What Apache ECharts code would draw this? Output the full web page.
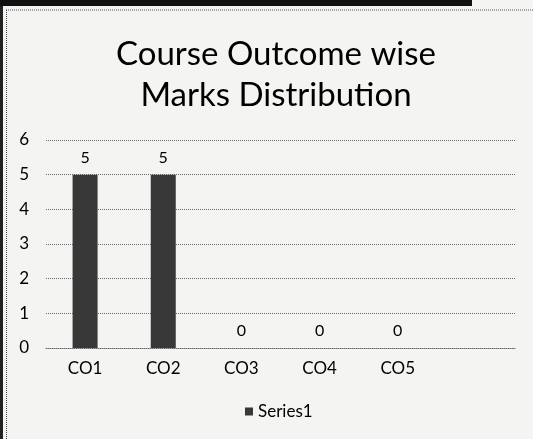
<!DOCTYPE html>
<html>
<head>
<meta charset="utf-8">
<script src="https://cdn.jsdelivr.net/npm/echarts@6/dist/echarts.min.js"></script>
<style>
  html, body { margin: 0; padding: 0; background: #f4f4f2; }
  #chart { width: 533px; height: 439px; }
</style>
</head>
<body>
<div id="chart"></div>
<script>
// Course outcome categories (the last slot is blank in the original sheet)
const categories = ['CO1', 'CO2', 'CO3', 'CO4', 'CO5', ''];
const series1 = [5, 5, 0, 0, 0, null];
const yTicks = [0, 1, 2, 3, 4, 5, 6];

const TEXT = '#000000';
const BAR = '#383838';
const GRID = '#6a6a6a';
const FONT = 'Lato, "Open Sans", sans-serif';

const chart = echarts.init(document.getElementById('chart'));

chart.setOption({
  backgroundColor: '#f4f4f2',
  animation: false,
  title: {
    text: 'Course Outcome wise\nMarks Distribution',
    left: 271,
    textAlign: 'center',
    top: 29,
    textStyle: { fontFamily: FONT, fontSize: 33, fontWeight: 'normal', color: TEXT, lineHeight: 41 }
  },
  legend: {
    bottom: 14,
    left: 240,
    itemWidth: 8,
    itemHeight: 8,
    itemGap: 6,
    icon: 'rect',
    textStyle: { fontFamily: FONT, fontSize: 17, color: TEXT },
    data: ['Series1']
  },
  grid: { left: 46, right: 18, top: 140, bottom: 91 },
  xAxis: {
    type: 'category',
    data: categories,
    axisTick: { show: false },
    axisLine: { lineStyle: { color: GRID, type: 'dotted', width: 1 } },
    axisLabel: { fontFamily: FONT, fontSize: 17, color: TEXT, margin: 12 }
  },
  yAxis: {
    type: 'value',
    min: yTicks[0],
    max: yTicks[yTicks.length - 1],
    interval: 1,
    axisLine: { show: false },
    axisTick: { show: false },
    axisLabel: { fontFamily: FONT, fontSize: 17, color: TEXT, margin: 17 },
    splitLine: { lineStyle: { color: GRID, type: 'dotted', width: 1 } }
  },
  series: [
    {
      name: 'Series1',
      type: 'bar',
      data: series1,
      barWidth: 25,
      itemStyle: { color: BAR },
      label: {
        show: true,
        position: 'top',
        distance: 9,
        fontFamily: FONT,
        fontSize: 16,
        color: TEXT
      }
    }
  ],
  graphic: [
    // table border above the chart
    { type: 'rect', shape: { x: 0, y: 0, width: 472, height: 6 }, style: { fill: '#111' }, silent: true },
    { type: 'rect', shape: { x: 239, y: 0, width: 2, height: 6 }, style: { fill: '#111' }, silent: true },
    { type: 'rect', shape: { x: 363, y: 0, width: 2, height: 6 }, style: { fill: '#111' }, silent: true },
    // chart frame
    { type: 'line', shape: { x1: 6, y1: 10, x2: 533, y2: 10 }, style: { stroke: '#555', lineWidth: 1, lineDash: [1, 1] }, silent: true },
    { type: 'rect', shape: { x: 0, y: 6, width: 3, height: 433 }, style: { fill: '#222' }, silent: true },
    { type: 'line', shape: { x1: 6.5, y1: 10, x2: 6.5, y2: 439 }, style: { stroke: '#444', lineWidth: 1, lineDash: [1, 1] }, silent: true }
  ]
});
</script>
</body>
</html>
